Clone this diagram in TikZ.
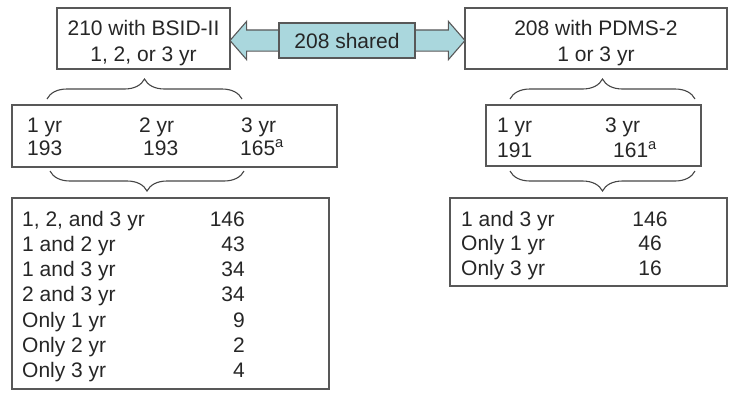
\documentclass[tikz,border=0pt]{standalone}
\usepackage{fontspec}
\setmainfont{Liberation Sans}
\usetikzlibrary{positioning, shapes.arrows, decorations.pathreplacing}
\definecolor{framegray}{RGB}{88,88,88}
\definecolor{bracegray}{RGB}{70,70,70}
\definecolor{sharedfill}{RGB}{170,215,221}

\begin{document}
\begin{tikzpicture}[x=1pt, y=-1pt,
		frame/.style={draw=framegray, line width=1.4pt, inner sep=0pt},
		lbl/.style={inner sep=0pt, text=black!85, font=\fontsize{21}{26}\selectfont},
		curly/.style={draw=bracegray, line width=1.1pt, decorate, decoration={brace, amplitude=20pt}}]

	\useasboundingbox (0,0) rectangle (729,392);

	% top row
	\node[frame, minimum width=173pt, minimum height=61pt] (bsid) at (143.5,38.5) {};
	\node[frame, minimum width=262pt, minimum height=61pt] (pdms) at (596,38.5) {};
	\node[lbl, anchor=base] (bsid1) at (143.5,35) {210 with BSID-II};
	\node[lbl, anchor=base] (bsid2) at (143.5,61) {1, 2, or 3 yr};
	\node[lbl, anchor=base] (pdms1) at (596,35) {208 with PDMS-2};
	\node[lbl, anchor=base] (pdms2) at (596,61) {1 or 3 yr};

	\node[double arrow, draw=framegray, fill=sharedfill, line width=1.1pt, inner sep=0pt,
		text height=10pt, text depth=10pt, minimum height=235pt,
		double arrow head extend=8.5pt, double arrow tip angle=98] (link) at (347.5,40.5) {};
	\node[frame, line width=1.1pt, fill=sharedfill, lbl, minimum width=136pt, minimum height=35pt] (shared) at (347,40.5) {208 shared};

	% braces
	\draw[curly] (47,99) -- (242,99);
	\draw[curly] (244,171) -- (50,171);
	\draw[curly] (510,99) -- (695,99);
	\draw[curly] (695,171) -- (510,171);

	% years per test
	\node[frame, minimum width=325pt, minimum height=62pt] (yearsA) at (174.5,136) {};
	\node[lbl, anchor=base west] (ya1) at (27,132) {1 yr};
	\node[lbl, anchor=base west] (ya2) at (139,132) {2 yr};
	\node[lbl, anchor=base west] (ya3) at (241,132) {3 yr};
	\node[lbl, anchor=base west] (na1) at (27,155) {193};
	\node[lbl, anchor=base west] (na2) at (143,155) {193};
	\node[lbl, anchor=base west] (na3) at (240,155) {165\textsuperscript{a}};

	\node[frame, minimum width=215pt, minimum height=61pt] (yearsB) at (593.5,135.5) {};
	\node[lbl, anchor=base west] (yb1) at (497,132) {1 yr};
	\node[lbl, anchor=base west] (yb3) at (605,132) {3 yr};
	\node[lbl, anchor=base west] (nb1) at (497,157) {191};
	\node[lbl, anchor=base west] (nb3) at (613,157) {161\textsuperscript{a}};

	% combinations
	\node[frame, minimum width=317pt, minimum height=191pt] (comboA) at (170.5,293.5) {};
	\foreach \lab/\val [count=\i from 0] in {{1, 2, and 3 yr}/146, {1 and 2 yr}/43, {1 and 3 yr}/34,
			{2 and 3 yr}/34, {Only 1 yr}/9, {Only 2 yr}/2, {Only 3 yr}/4} {
		\node[lbl, anchor=base west] (ca-\i) at (22,{226+25.3*\i}) {\lab};
		\node[lbl, anchor=base east] (cv-\i) at (245,{226+25.3*\i}) {\val};
	}

	\node[frame, minimum width=277pt, minimum height=88pt] (comboB) at (588.5,242) {};
	\foreach \lab/\val [count=\i from 0] in {{1 and 3 yr}/146, {Only 1 yr}/46, {Only 3 yr}/16} {
		\node[lbl, anchor=base west] (cb-\i) at (461,{226+24.5*\i}) {\lab};
		\node[lbl, anchor=base] (vb-\i) at (650,{226+24.5*\i}) {\val};
	}
\end{tikzpicture}
\end{document}
